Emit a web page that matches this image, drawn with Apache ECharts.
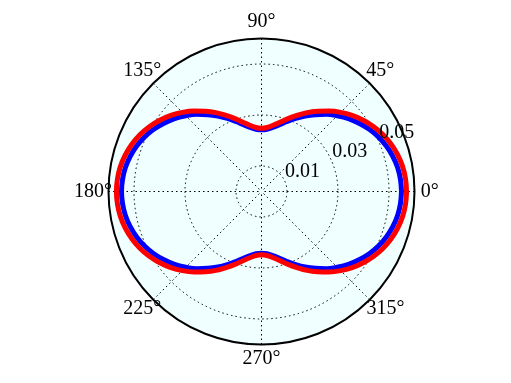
<!DOCTYPE html>
<html><head><meta charset="utf-8">
<script src="https://cdn.jsdelivr.net/npm/echarts@6/dist/echarts.min.js"></script>
<style>html,body{margin:0;padding:0;background:#fff}#c{width:511px;height:383px}</style>
</head><body><div id="c"></div>
<script>
// angles in degrees
const angles = [0,5,10,15,20,25,30,35,40,45,50,55,60,65,70,75,80,85,90,
  95,100,105,110,115,120,125,130,135,140,145,150,155,160,165,170,175,180,
  185,190,195,200,205,210,215,220,225,230,235,240,245,250,255,260,265,270,
  275,280,285,290,295,300,305,310,315,320,325,330,335,340,345,350,355,360];
// blue curve radius
const blueR = [0.0549,0.0547,0.0542,0.0533,0.0521,0.0506,0.0488,0.0467,0.0445,0.0420,0.0395,0.0368,0.0342,0.0316,0.0292,0.0271,0.0255,0.0245,0.0242,
  0.0245,0.0255,0.0271,0.0292,0.0316,0.0342,0.0368,0.0395,0.0420,0.0445,0.0467,0.0488,0.0506,0.0521,0.0533,0.0542,0.0547,0.0549,
  0.0547,0.0542,0.0533,0.0521,0.0506,0.0488,0.0467,0.0445,0.0420,0.0395,0.0368,0.0342,0.0316,0.0292,0.0271,0.0255,0.0245,0.0242,
  0.0245,0.0255,0.0271,0.0292,0.0316,0.0342,0.0368,0.0395,0.0420,0.0445,0.0467,0.0488,0.0506,0.0521,0.0533,0.0542,0.0547,0.0549];
// red curve radius
const redR = [0.0569,0.0567,0.0562,0.0553,0.0541,0.0526,0.0508,0.0487,0.0464,0.0439,0.0412,0.0384,0.0357,0.0329,0.0304,0.0281,0.0264,0.0252,0.0248,
  0.0252,0.0264,0.0281,0.0304,0.0329,0.0357,0.0384,0.0412,0.0439,0.0464,0.0487,0.0508,0.0526,0.0541,0.0553,0.0562,0.0567,0.0569,
  0.0567,0.0562,0.0553,0.0541,0.0526,0.0508,0.0487,0.0464,0.0439,0.0412,0.0384,0.0357,0.0329,0.0304,0.0281,0.0264,0.0252,0.0248,
  0.0252,0.0264,0.0281,0.0304,0.0329,0.0357,0.0384,0.0412,0.0439,0.0464,0.0487,0.0508,0.0526,0.0541,0.0553,0.0562,0.0567,0.0569];
const angleTicks = [0, 45, 90, 135, 180, 225, 270, 315];
const radiusLabels = [0.01, 0.03, 0.05];
const radiusMax = 0.06;

const chart = echarts.init(document.getElementById('c'), null, {renderer: 'canvas'});
const font = 'Liberation Serif';
const fs = 20;
const dotted = [1.5, 3];
const center = [261.5, 191.5];
const R = 153;

// per-label padding so that every angle label sits centred on the same ring
const labelPad = {
  0: [0, 0, 0, 17.6], 45: [0, 0, 10.5, 4.6], 90: [0, 0, 18, 0], 135: [0, 0, 10.5, 0],
  180: [0, 7.7, 0, 0], 225: [7.5, 0, 0, 0], 270: [15.6, 0, 0, 0], 315: [7.5, 0, 0, 4.9]
};
const rich = {};
angleTicks.forEach(a => {
  rich['a' + a] = {fontFamily: font, fontSize: fs, color: '#000', padding: labelPad[a]};
});

const option = {
  animation: false,
  backgroundColor: '#ffffff',
  polar: [
    {center: center, radius: R},
    {center: center, radius: R}
  ],
  angleAxis: [
    {
      polarIndex: 0, type: 'value', min: 0, max: 360, interval: 45,
      startAngle: 0, clockwise: false,
      axisLine: {show: true, lineStyle: {color: '#000', width: 2}},
      axisTick: {show: false},
      axisLabel: {
        show: true, margin: -11.3, color: '#000', fontFamily: font, fontSize: fs,
        formatter: v => (v >= 360 ? '' : '{a' + v + '|' + v + '°}'),
        rich: rich
      },
      splitLine: {show: true, lineStyle: {color: '#000', width: 1, type: dotted}},
      splitArea: {show: false},
      z: 2
    },
    {
      polarIndex: 1, type: 'value', min: 0, max: 360, startAngle: 22.5, clockwise: false,
      axisLine: {show: false}, axisTick: {show: false}, axisLabel: {show: false},
      splitLine: {show: false},
      splitArea: {show: true, areaStyle: {color: ['#F0FFFF']}},
      z: 0
    }
  ],
  radiusAxis: [
    {
      polarIndex: 0, type: 'value', min: 0, max: radiusMax, interval: 0.01,
      axisLine: {show: false}, axisTick: {show: false}, axisLabel: {show: false},
      splitLine: {show: true, lineStyle: {color: ['rgba(0,0,0,0)', '#000'], width: 1, type: dotted}},
      z: 2
    },
    {
      polarIndex: 1, type: 'value', min: 0, max: radiusMax, interval: 0.01,
      axisLine: {show: false}, axisTick: {show: false}, splitLine: {show: false},
      axisLabel: {
        show: true, margin: 0, rotate: 0, color: '#000', fontFamily: font, fontSize: fs,
        align: 'left', verticalAlign: 'bottom',
        formatter: v => (radiusLabels.some(t => Math.abs(t - v) < 1e-9) ? v.toFixed(2) : '')
      },
      z: 20
    }
  ],
  series: [
    {
      type: 'line', coordinateSystem: 'polar', polarIndex: 0, symbol: 'none', smooth: 0.4,
      lineStyle: {color: '#0000ff', width: 5},
      data: angles.map((a, i) => [blueR[i], a]), z: 5
    },
    {
      type: 'line', coordinateSystem: 'polar', polarIndex: 0, symbol: 'none', smooth: 0.4,
      lineStyle: {color: '#ff0000', width: 5},
      data: angles.map((a, i) => [redR[i], a]), z: 6
    }
  ]
};
chart.setOption(option);
</script>
</body></html>
